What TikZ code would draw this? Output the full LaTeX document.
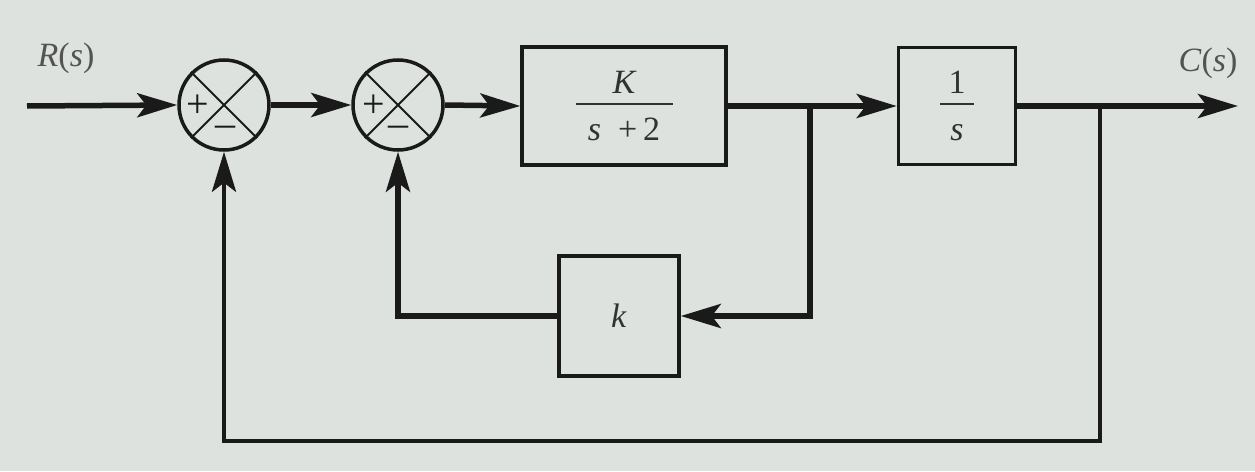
\documentclass[tikz,border=0pt]{standalone}
\usepackage{amsmath}
\usepackage{fontspec}
\setmainfont{Liberation Serif}
\usetikzlibrary{arrows.meta}
\definecolor{bgc}{RGB}{221,226,222}
\definecolor{ink}{RGB}{26,26,26}
\newcommand{\blkfrac}[2]{$\genfrac{}{}{2pt}{0}{#1}{\rule{0pt}{29pt}#2}$}
\tikzset{
  sig/.style={line width=5.5pt, draw=ink, -{Stealth[length=40pt,width=24pt,inset=9pt]}},
  blk/.style={draw=ink, line width=3.5pt, rectangle, inner sep=0pt, text=ink!90},
  sumnode/.style={draw=ink, line width=3.5pt, circle, minimum size=90pt, inner sep=0pt},
  lbl/.style={text=ink!75, inner sep=0pt},
  sgn/.style={text=ink, inner sep=0pt, font=\fontsize{40}{42}\selectfont},
}
\begin{document}
\begin{tikzpicture}[x=1pt,y=-1pt, font=\fontsize{34}{38}\selectfont]
\fill[bgc] (0,0) rectangle (1255,471);
\useasboundingbox (0,0) rectangle (1255,471);

% summing junctions
\node[sumnode] (s1) at (224,105) {};
\node[sumnode] (s2) at (398,105) {};
\foreach \s in {s1,s2}{
  \draw[ink, line width=2pt] (\s.north west) -- (\s.south east);
  \draw[ink, line width=2pt] (\s.north east) -- (\s.south west);
}
\node[sgn] (p1) at ([xshift=-26pt,yshift=-1pt]s1.center) {+};
\node[sgn] (m1) at ([xshift=1pt,yshift=-26pt]s1.center) {\textendash};
\node[sgn] (p2) at ([xshift=-24pt,yshift=-1pt]s2.center) {+};
\node[sgn] (m2) at ([xshift=0pt,yshift=-26pt]s2.center) {\textendash};

% blocks
\node[blk, minimum width=204pt, minimum height=118pt] (g1) at (624,106)
  {\blkfrac{\textit{K}}{\makebox[97pt]{\textit{s}\ \ \textrm{+}\,\textrm{2}}}};
\node[blk, minimum width=117pt, minimum height=117pt] (g2) at (957,106)
  {\blkfrac{\makebox[34pt]{1}}{\textit{s}}};
\node[blk, minimum width=120pt, minimum height=120pt] (kb) at (619,316)
  {\textit{k}};

% labels
\node[lbl] (R) at (66,58) {\textit{R}(\textit{s})};
\node[lbl] (C) at (1208,63) {\textit{C}(\textit{s})};

% coordinates
\coordinate (in) at (27,106);
\coordinate (out) at (1238,106);
\coordinate (br1) at (810,106);
\coordinate (br2) at (1100,106);
\coordinate (bot) at (1100,441);

% connectors
\draw[sig] (in) -- (s1.west);
\draw[sig] (s1.east) -- (s2.west);
\draw[sig] (s2.east) -- (g1.west);
\draw[sig] (g1.east) -- (g2.west);
\draw[sig] (g2.east) -- (out);
\draw[sig] (br1) |- (kb.east);
\draw[sig] (kb.west) -| (s2.south);
\draw[sig, line width=4.5pt] (br2) -- (bot) -| (s1.south);
\end{tikzpicture}
\end{document}
